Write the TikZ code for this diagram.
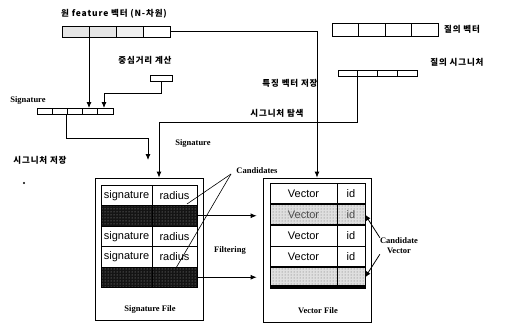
\documentclass[tikz,border=0pt]{standalone}
\usepackage{fontspec}
\setmainfont{Liberation Serif}
\newfontfamily\kr[LetterSpace=10]{Noto Sans CJK KR}
\newfontfamily\arial{Liberation Sans}
\usetikzlibrary{arrows.meta,patterns}
\tikzset{
  ln/.style={line width=0.8pt},
  arr/.style={ln,-{Latex[length=6pt,width=5pt]}},
  klab/.style={font=\kr\bfseries\fontsize{8.5}{9}\selectfont, inner sep=0pt},
  elab/.style={font=\bfseries\fontsize{8.5}{10}\selectfont, inner sep=0pt},
  cell/.style={draw, line width=0.7pt, inner sep=0pt, outer sep=0pt},
  tcell/.style={cell, font=\arial\fontsize{11}{12}\selectfont},
  dark/.style={cell, preaction={fill=black!92}, pattern=dots, pattern color=gray!70},
  speck/.style={cell, preaction={fill=gray!25}, pattern=dots, pattern color=black!60},
}
\begin{document}
\begin{tikzpicture}[x=1pt,y=-1pt]
\useasboundingbox (0,0) rectangle (511,329);

% labels
\node[klab] (t1) at (114,14) {원 feature 벡터 (N-차원)};
\node[klab] (t2) at (145,60) {중심거리 계산};
\node[elab] (t3) at (28,100) {Signature};
\node[klab] (t4) at (40,160) {시그니처 저장};
\fill (24,183) circle (1.2pt);
\node[klab] (t5) at (290,83) {특징 벡터 저장};
\node[klab] (t6) at (277,113) {시그니처 탐색};
\node[elab] (t7) at (193,143) {Signature};
\node[klab] (t8) at (462,29) {질의 벡터};
\node[klab] (t9) at (457,62) {질의 시그니처};

% feature vector bar
\foreach \i/\f in {1/gray!20,2/gray!20,3/gray!12,4/white}
  \node[cell, fill=\f, minimum width=27pt, minimum height=11pt] (fv\i) at ({62+27*\i-13.5},31.5) {};
% centre box
\node[cell, minimum width=22pt, minimum height=6pt] (cb) at (161,78) {};
% signature bar
\foreach \i in {1,...,5}
  \node[cell, minimum width=15.2pt, minimum height=6pt] (sb\i) at ({37+15.2*\i-7.6},111) {};
% query vector bar
\foreach \i in {1,...,4}
  \node[cell, minimum width=26.5pt, minimum height=13pt] (qv\i) at ({332+26.5*\i-13.25},29.5) {};
% query signature bar
\foreach \i in {1,...,4}
  \node[cell, minimum width=19.75pt, minimum height=6pt] (qs\i) at ({338+19.75*\i-9.875},73) {};

% file boxes
\node[draw, ln, minimum width=108pt, minimum height=142pt, inner sep=0pt] (sf) at (149,249) {};
\node[draw, ln, minimum width=108pt, minimum height=144pt, inner sep=0pt] (vf) at (317,250) {};
\node[elab] (sft) at (150,309) {Signature File};
\node[elab] (vft) at (318,311) {Vector File};

% signature table
\foreach \i in {1,3,4} {
  \node[tcell, minimum width=51pt, minimum height=20.5pt] (sr\i c1) at (126.5,{185+20.5*\i-10.25}) {signature};
  \node[tcell, minimum width=45pt, minimum height=20.5pt] (sr\i c2) at (174.5,{185+20.5*\i-10.25}) {radius};
}
\foreach \i in {2,5} {
  \node[dark, minimum width=51pt, minimum height=20.5pt] (sr\i c1) at (126.5,{185+20.5*\i-10.25}) {};
  \node[dark, minimum width=45pt, minimum height=20.5pt] (sr\i c2) at (174.5,{185+20.5*\i-10.25}) {};
}

% vector table
\foreach \i in {1,3,4} {
  \node[tcell, minimum width=67pt, minimum height=21pt] (vr\i c1) at (303.5,{183+21*\i-10.5}) {Vector};
  \node[tcell, minimum width=28pt, minimum height=21pt] (vr\i c2) at (351,{183+21*\i-10.5}) {id};
}
\node[speck, minimum width=67pt, minimum height=21pt, font=\arial\fontsize{11}{12}\selectfont, text=black!70] (vr2c1) at (303.5,214.5) {Vector};
\node[speck, minimum width=28pt, minimum height=21pt, font=\arial\fontsize{11}{12}\selectfont, text=black!70] (vr2c2) at (351,214.5) {id};
\node[speck, minimum width=67pt, minimum height=21pt] (vr5c1) at (303.5,277.5) {};
\node[speck, minimum width=28pt, minimum height=21pt] (vr5c2) at (351,277.5) {};
\draw[line width=2pt] (vr2c1.north west) -- (vr2c2.north east);
\draw[line width=2pt] (vr2c1.south west) -- (vr2c2.south east);
\draw[line width=2pt] (vr5c1.north west) -- (vr5c2.north east);
\draw[line width=4pt] ([yshift=1pt]vr5c1.south west) -- ([yshift=1pt]vr5c2.south east);

% connectors
\draw[arr] (fv4.east) -| (vf.north);
\draw[arr] (fv1.south east) -- (fv1.south east |- sb4.north);
\coordinate (bendA) at (104,93);
\draw[arr] (cb.south) |- (bendA) -- (bendA |- sb5.north);
\coordinate (sbo) at (66,114);
\coordinate (bendB) at (148,138);
\coordinate (sigend) at (148,160);
\draw[arr] (sbo) |- (bendB) -- (sigend);
\coordinate (bendC) at (159,122);
\draw[arr] (qs1.south east) |- (bendC) -- (bendC |- sf.north);

% filtering
\node[elab] (filt) at (230,250) {Filtering};
\draw[arr, shorten >=6pt] (sr2c2.east) -- (sr2c2.east -| vf.west);
\draw[arr, shorten >=6pt] (sr5c2.east) -- (sr5c2.east -| vf.west);

% candidates
\node[elab] (cand) at (257,171) {Candidates};
\coordinate (capex) at (231,174);
\coordinate (ct1) at (187,204);
\coordinate (ct2) at (176,268);
\draw[line width=0.6pt] (capex) -- (ct1);
\draw[line width=0.6pt] (capex) -- (ct2);

% candidate vector
\node[elab, align=center] (cv) at (399,246) {Candidate\\Vector};
\draw[arr] (cv.north west) -- (vr2c2.east);
\draw[arr] (cv.south west) -- (vr5c2.east);
\end{tikzpicture}
\end{document}
